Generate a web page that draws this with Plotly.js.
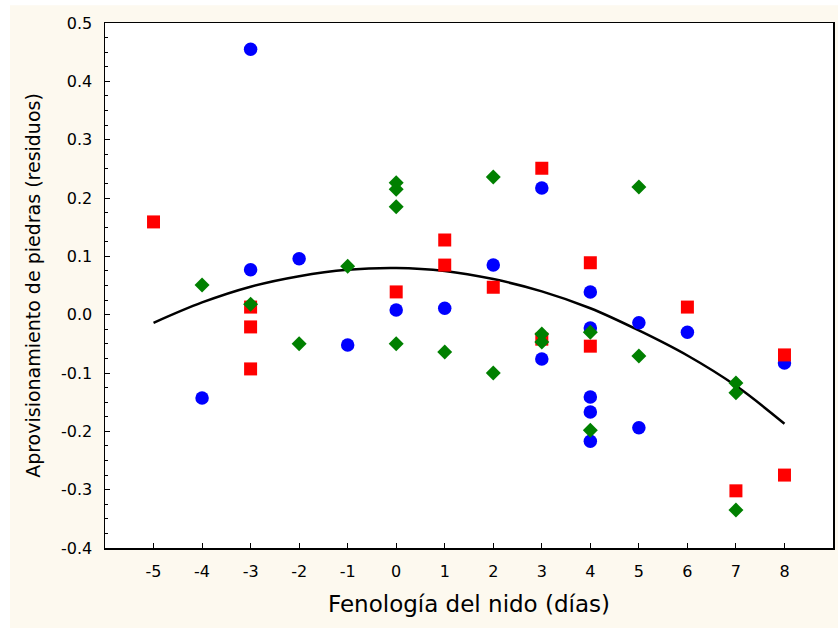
<!DOCTYPE html>
<html>
<head>
<meta charset="utf-8">
<script src="https://cdn.plot.ly/plotly-3.0.1.min.js"></script>
<style>html,body{margin:0;padding:0;background:#fff;}#chart{width:838px;height:628px;}</style>
</head>
<body>
<div id="chart"></div>
<script>
// Blue circles
const blueX = [-4, -3, -3, -2, -1, 0, 1, 2, 3, 3, 4, 4, 4, 4, 4, 5, 5, 6, 8];
const blueY = [-0.143, 0.455, 0.077, 0.096, -0.052, 0.008, 0.011, 0.085, 0.217, -0.076, 0.039, -0.023, -0.141, -0.167, -0.217, -0.014, -0.194, -0.030, -0.083];
// Red squares
const redX = [-5, -3, -3, -3, 0, 1, 1, 2, 3, 3, 4, 4, 6, 7, 8, 8];
const redY = [0.159, 0.013, -0.021, -0.093, 0.039, 0.128, 0.085, 0.047, 0.251, -0.042, 0.089, -0.054, 0.013, -0.302, -0.069, -0.275];
// Green diamonds
const greenX = [-4, -3, -2, -1, 0, 0, 0, 0, 1, 2, 2, 3, 3, 4, 4, 5, 5, 7, 7, 7];
const greenY = [0.051, 0.018, -0.050, 0.083, 0.226, 0.215, 0.185, -0.050, -0.064, 0.236, -0.100, -0.033, -0.047, -0.030, -0.198, 0.219, -0.071, -0.117, -0.134, -0.335];
// Fitted curve
const curveX = [-5, -4, -3, -2, -1, 0, 1, 2, 3, 4, 5, 6, 7, 8];
const curveY = [-0.014, 0.021, 0.048, 0.066, 0.077, 0.080, 0.075, 0.061, 0.040, 0.011, -0.027, -0.070, -0.122, -0.187];
// Tick labels
const xTicks = [-5, -4, -3, -2, -1, 0, 1, 2, 3, 4, 5, 6, 7, 8];
const yTicks = [-0.4, -0.3, -0.2, -0.1, 0.0, 0.1, 0.2, 0.3, 0.4, 0.5];
const yTickText = ['-0.4', '-0.3', '-0.2', '-0.1', '0.0', '0.1', '0.2', '0.3', '0.4', '0.5'];

const font = 'DejaVu Sans, Verdana, sans-serif';
const traces = [
  {x: curveX, y: curveY, mode: 'lines', line: {color: '#000', width: 2.5, shape: 'spline'}, hoverinfo: 'skip'},
  {x: blueX, y: blueY, mode: 'markers', marker: {symbol: 'circle', size: 13.5, color: '#0000FF'}},
  {x: redX, y: redY, mode: 'markers', marker: {symbol: 'square', size: 13, color: '#FF0000'}},
  {x: greenX, y: greenY, mode: 'markers', marker: {symbol: 'diamond', size: 11.5, color: '#008000'}}
];
const layout = {
  width: 838, height: 628,
  margin: {l: 105, r: 5, t: 23, b: 80},
  paper_bgcolor: '#FDF9EF',
  plot_bgcolor: '#FFFFFF',
  showlegend: false,
  font: {family: font, color: '#000'},
  xaxis: {
    range: [-6, 9], tickvals: xTicks, ticktext: xTicks.map(String),
    ticks: 'inside', ticklen: 5, tickwidth: 1, tickcolor: '#000',
    showgrid: false, zeroline: false, showline: true, linecolor: '#000', linewidth: 1.5, mirror: true,
    tickfont: {size: 16, family: font}, ticklabelstandoff: 8,
    title: {text: 'Fenología del nido (días)', font: {size: 23, family: font}, standoff: 16},
    automargin: false
  },
  yaxis: {
    range: [-0.4, 0.5], tickvals: yTicks, ticktext: yTickText,
    ticks: 'inside', ticklen: 5, tickwidth: 1, tickcolor: '#000',
    minor: {dtick: 0.025, ticks: 'inside', ticklen: 3, tickcolor: '#000', showgrid: false},
    showgrid: false, zeroline: false, showline: true, linecolor: '#000', linewidth: 1.5, mirror: true,
    tickfont: {size: 16, family: font}, ticklabelstandoff: 8,
    title: {text: 'Aprovisionamiento de piedras (residuos)', font: {size: 19, family: font}, standoff: 15},
    automargin: false
  },
  shapes: [
    {type: 'rect', xref: 'paper', yref: 'paper', x0: -0.2, x1: -0.1305, y0: -0.2, y1: 1.1, fillcolor: '#FFFFFF', line: {width: 0}, layer: 'below'},
    {type: 'rect', xref: 'paper', yref: 'paper', x0: -0.2, x1: 1.1, y0: 1.034, y1: 1.1, fillcolor: '#FFFFFF', line: {width: 0}, layer: 'below'}
  ]
};
Plotly.newPlot('chart', traces, layout, {displayModeBar: false, staticPlot: true});
</script>
</body>
</html>
